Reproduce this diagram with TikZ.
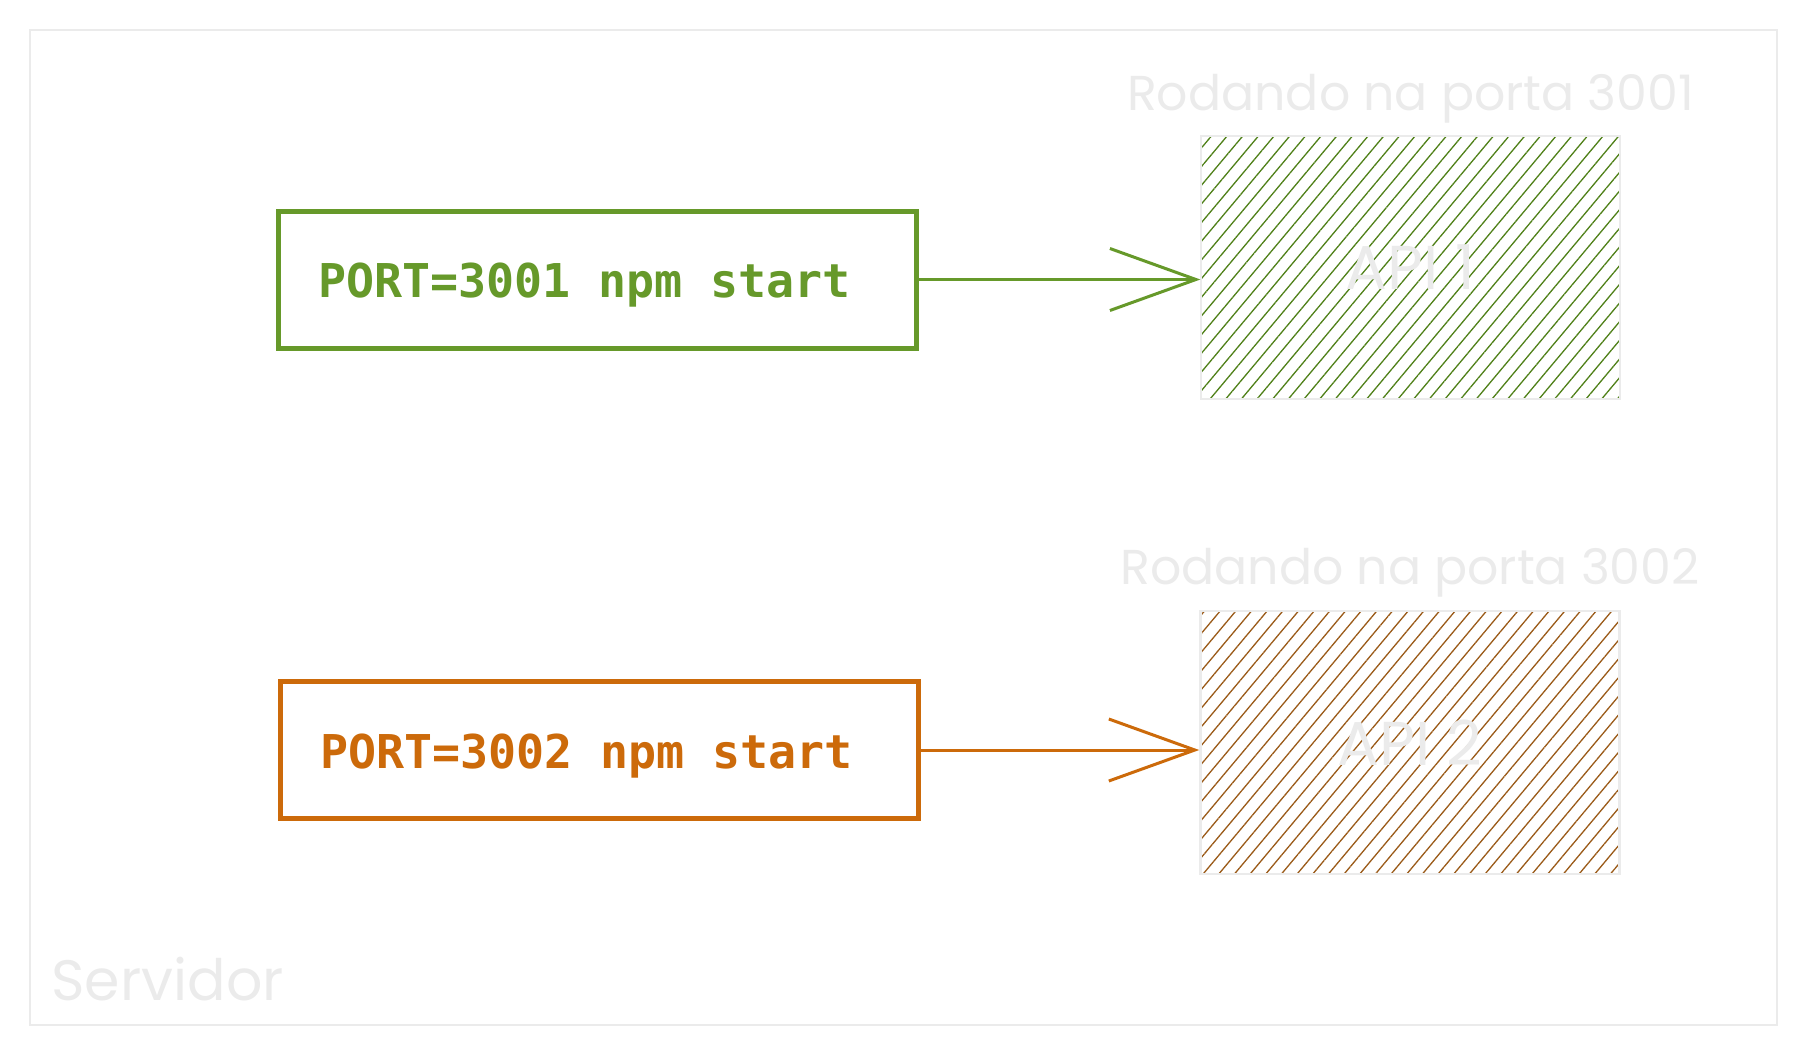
\documentclass[tikz,border=0pt]{standalone}
\usepackage{fontspec}
\setmonofont{DejaVu Sans Mono}
\newfontfamily\handfont{Poppins}
\usetikzlibrary{positioning,arrows.meta,patterns.meta}
\definecolor{framegray}{HTML}{EBEBEB}
\definecolor{cmdgreen}{HTML}{66992A}
\definecolor{hatchgreen}{HTML}{4F8018}
\definecolor{cmdorange}{HTML}{CC6A0A}
\definecolor{hatchorange}{HTML}{9A5A18}
\newcommand\gap{\hspace{0.602em}}
\tikzset{
  frame/.style={draw=framegray, line width=2.5pt},
  cmdbox/.style={draw, line width=5pt, minimum height=137pt, text width=558pt,
    text height=36pt, text depth=0pt, inner xsep=40pt, align=left,
    font=\ttfamily\bfseries\fontsize{46.6}{50}\selectfont},
  apibox/.style={draw=framegray, line width=2.5pt, minimum width=419pt, minimum height=263pt,
    pattern={Lines[angle=50,distance=12pt,line width=1.3pt]}, text=framegray,
    font=\handfont\fontsize{62}{64}\selectfont},
  hint/.style={text=framegray, font=\handfont\fontsize{49}{52}\selectfont},
  link/.style={-{Straight Barb[length=86pt,width=62pt,line width=3pt]}, line width=3pt}
}
\begin{document}
\begin{tikzpicture}[x=1pt,y=-1pt]
  \useasboundingbox (0,0) rectangle (1809,1057);
  \node[frame, minimum width=1747pt, minimum height=995pt] (server) at (903.5,527.5) {};
  \node[hint, anchor=base west, font=\handfont\fontsize{57}{60}\selectfont] (servlabel) at (48,1000) {Servidor};

  \node[cmdbox, draw=cmdgreen, text=cmdgreen] (cmd1) at (597,279.5) {PORT=3001\gap npm\gap start};
  \node[cmdbox, draw=cmdorange, text=cmdorange] (cmd2) at (599,750) {PORT=3002\gap npm\gap start};

  \node[apibox, pattern color=hatchgreen] (api1) at (1410.5,267.5) {API 1};
  \node[apibox, pattern color=hatchorange] (api2) at (1410,742.5) {API 2};

  \node[hint, above=25pt of api1.north, anchor=base] (port1) {Rodando na porta 3001};
  \node[hint, above=25pt of api2.north, anchor=base] (port2) {Rodando na porta 3002};

  \draw[link, cmdgreen] (cmd1.east) -- (cmd1.east -| api1.west);
  \draw[link, cmdorange] (cmd2.east) -- (cmd2.east -| api2.west);
\end{tikzpicture}
\end{document}
